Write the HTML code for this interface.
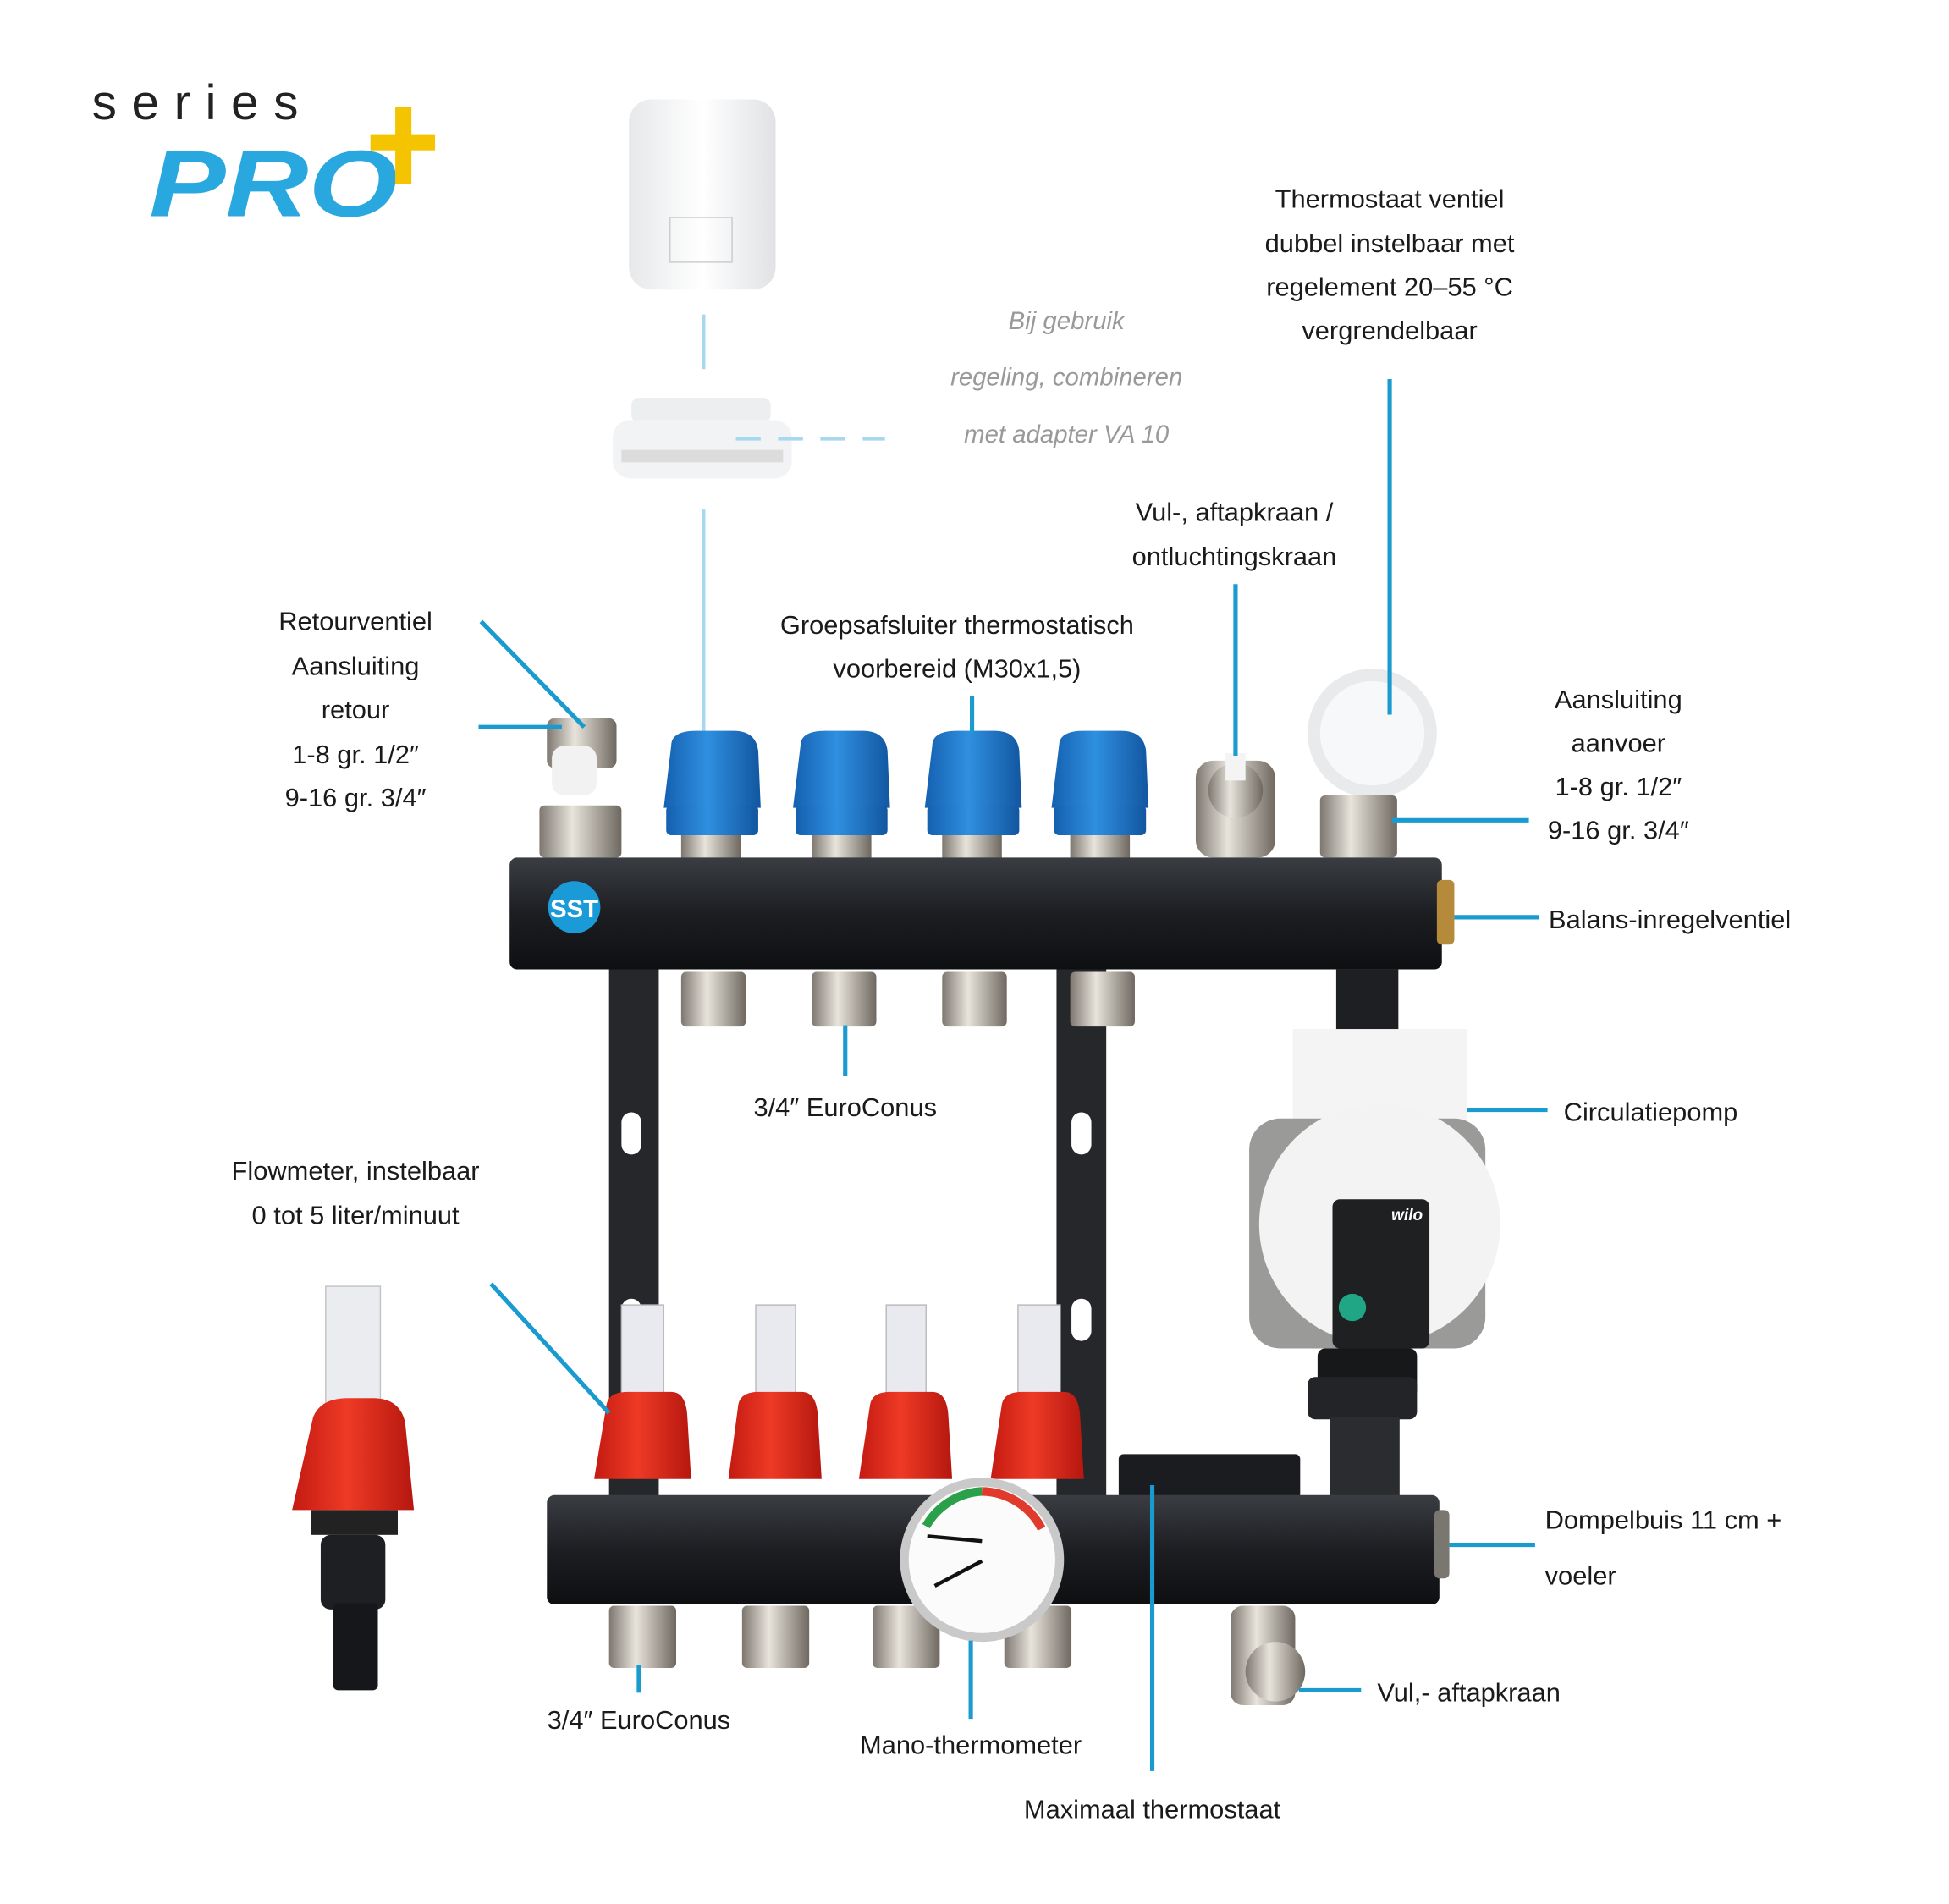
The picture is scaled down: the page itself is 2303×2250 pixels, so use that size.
<!DOCTYPE html>
<html><head><meta charset="utf-8"><style>
html,body{margin:0;padding:0;background:#fff}
svg{display:block}
text{font-family:"Liberation Sans",sans-serif;fill:#1a1a1a;font-size:21px}
</style></head><body>
<svg width="2303" height="2250" viewBox="0 0 1568 1532" preserveAspectRatio="none" xmlns="http://www.w3.org/2000/svg">
<defs>
<linearGradient id="blk" x1="0" y1="0" x2="0" y2="1"><stop offset="0" stop-color="#3a3d42"/><stop offset=".5" stop-color="#1c1e22"/><stop offset="1" stop-color="#0e0f11"/></linearGradient>
<linearGradient id="sil" x1="0" y1="0" x2="1" y2="0"><stop offset="0" stop-color="#7d7770"/><stop offset=".4" stop-color="#e8e4dc"/><stop offset="1" stop-color="#6e6860"/></linearGradient>
<linearGradient id="blu" x1="0" y1="0" x2="1" y2="0"><stop offset="0" stop-color="#1560b0"/><stop offset=".45" stop-color="#2f8fe0"/><stop offset="1" stop-color="#1256a0"/></linearGradient>
<linearGradient id="red" x1="0" y1="0" x2="1" y2="0"><stop offset="0" stop-color="#c41a12"/><stop offset=".45" stop-color="#ee3a25"/><stop offset="1" stop-color="#b5170f"/></linearGradient>
<linearGradient id="wht" x1="0" y1="0" x2="1" y2="0"><stop offset="0" stop-color="#e6e8ea"/><stop offset=".5" stop-color="#ffffff"/><stop offset="1" stop-color="#e0e2e4"/></linearGradient>
</defs>
<g stroke="none">
<text x="74" y="96" textLength="166" lengthAdjust="spacing" style="font-size:40px;fill:#222">series</text>
<text x="120" y="174" textLength="200" lengthAdjust="spacingAndGlyphs" style="font-size:76px;font-weight:bold;font-style:italic;fill:#29a8e0">PRO</text>
<rect x="318" y="86" width="13" height="62" fill="#f5c400"/>
<rect x="298" y="108" width="52" height="13" fill="#f5c400"/>

<rect x="506" y="80" width="118" height="153" rx="18" fill="url(#wht)"/>
<rect x="539" y="175" width="50" height="36" fill="none" stroke="#ccc"/>
<rect x="508" y="320" width="112" height="20" rx="6" fill="#eceef0"/>
<rect x="493" y="338" width="144" height="47" rx="14" fill="#f2f3f4"/>
<rect x="500" y="362" width="130" height="10" fill="#dcdcdc"/>

<g stroke="#a8d8f0" stroke-width="3" fill="none">
<line x1="566" y1="253" x2="566" y2="297"/>
<line x1="566" y1="410" x2="566" y2="590"/>
<line x1="592" y1="353" x2="712" y2="353" stroke-dasharray="20,14"/>
</g>
<text x="858" y="265" text-anchor="middle" style="font-style:italic;fill:#999;font-size:20px">Bij gebruik</text>
<text x="858" y="310" text-anchor="middle" style="font-style:italic;fill:#999;font-size:20px">regeling, combineren</text>
<text x="858" y="356" text-anchor="middle" style="font-style:italic;fill:#999;font-size:20px">met adapter VA 10</text>

<rect x="490" y="775" width="40" height="430" fill="#25272b"/>
<rect x="850" y="775" width="40" height="430" fill="#25272b"/>
<rect x="500" y="895" width="16" height="34" rx="8" fill="#fff"/>
<rect x="862" y="895" width="16" height="34" rx="8" fill="#fff"/>
<rect x="500" y="1045" width="16" height="34" rx="8" fill="#fff"/>
<rect x="862" y="1045" width="16" height="34" rx="8" fill="#fff"/>

<rect x="440" y="578" width="56" height="40" rx="6" fill="url(#sil)"/>
<rect x="444" y="600" width="36" height="40" rx="10" fill="#f2f2f2"/>
<rect x="434" y="648" width="66" height="42" rx="4" fill="url(#sil)"/>
<g>
<rect x="548" y="670" width="48" height="22" fill="url(#sil)"/>
<rect x="653" y="670" width="48" height="22" fill="url(#sil)"/>
<rect x="758" y="670" width="48" height="22" fill="url(#sil)"/>
<rect x="861" y="670" width="48" height="22" fill="url(#sil)"/>
</g>
<g fill="url(#blu)">
<path d="M540 600 Q540 588 560 588 L590 588 Q608 588 610 604 L612 650 L534 650 Z"/>
<rect x="536" y="648" width="74" height="24" rx="4"/>
<path d="M644 600 Q644 588 664 588 L694 588 Q712 588 714 604 L716 650 L638 650 Z"/>
<rect x="640" y="648" width="74" height="24" rx="4"/>
<path d="M750 600 Q750 588 770 588 L800 588 Q818 588 820 604 L822 650 L744 650 Z"/>
<rect x="746" y="648" width="74" height="24" rx="4"/>
<path d="M852 600 Q852 588 872 588 L902 588 Q920 588 922 604 L924 650 L846 650 Z"/>
<rect x="848" y="648" width="74" height="24" rx="4"/>
</g>
<rect x="962" y="612" width="64" height="78" rx="14" fill="url(#sil)"/>
<circle cx="994" cy="636" r="22" fill="url(#sil)"/>
<rect x="986" y="606" width="16" height="22" fill="#f4f4f4"/>
<circle cx="1104" cy="590" r="52" fill="#e8eaec"/>
<circle cx="1104" cy="590" r="42" fill="#f7f8f9"/>
<rect x="1062" y="640" width="62" height="50" rx="4" fill="url(#sil)"/>

<rect x="410" y="690" width="750" height="90" rx="6" fill="url(#blk)"/>
<rect x="1156" y="708" width="14" height="52" rx="4" fill="#b58a3a"/>
<circle cx="462" cy="730" r="21" fill="#1a9bd8"/>
<text x="462" y="738" text-anchor="middle" style="font-size:20px;font-weight:bold;fill:#fff">SST</text>
<rect x="548" y="782" width="52" height="44" rx="4" fill="url(#sil)"/>
<rect x="653" y="782" width="52" height="44" rx="4" fill="url(#sil)"/>
<rect x="758" y="782" width="52" height="44" rx="4" fill="url(#sil)"/>
<rect x="861" y="782" width="52" height="44" rx="4" fill="url(#sil)"/>

<rect x="1075" y="780" width="50" height="60" fill="#1d1f22"/>
<rect x="1040" y="828" width="140" height="112" fill="#f4f4f4"/>
<rect x="1005" y="900" width="190" height="185" rx="25" fill="#9a9a98"/>
<circle cx="1110" cy="985" r="97" fill="#f3f3f3"/>
<rect x="1072" y="965" width="78" height="120" rx="6" fill="#1e2022"/>
<text x="1132" y="982" text-anchor="middle" style="font-size:13px;font-weight:bold;font-style:italic;fill:#fff">wilo</text>
<circle cx="1088" cy="1052" r="11" fill="#20a685"/>
<rect x="1060" y="1085" width="80" height="40" rx="6" fill="#16181a"/>
<rect x="1052" y="1108" width="88" height="34" rx="6" fill="#222427"/>
<rect x="1070" y="1140" width="56" height="70" fill="#2a2c30"/>

<g fill="#e8eaf0" stroke="#bbb" stroke-width="1">
<rect x="500" y="1050" width="34" height="75"/>
<rect x="608" y="1050" width="32" height="75"/>
<rect x="713" y="1050" width="32" height="75"/>
<rect x="819" y="1050" width="34" height="75"/>
</g>
<g fill="url(#red)">
<path d="M488 1130 Q490 1120 505 1120 L540 1120 Q552 1120 553 1140 L556 1190 L478 1190 Z"/>
<path d="M594 1130 Q596 1120 610 1120 L645 1120 Q657 1120 658 1140 L661 1190 L586 1190 Z"/>
<path d="M700 1130 Q702 1120 716 1120 L750 1120 Q762 1120 763 1140 L766 1190 L691 1190 Z"/>
<path d="M806 1130 Q808 1120 822 1120 L856 1120 Q868 1120 869 1140 L872 1190 L797 1190 Z"/>
</g>
<rect x="900" y="1170" width="146" height="36" rx="4" fill="#1a1c1f"/>
<rect x="440" y="1203" width="718" height="88" rx="6" fill="url(#blk)"/>
<rect x="1154" y="1215" width="12" height="55" rx="4" fill="#7a7670"/>
<rect x="490" y="1292" width="54" height="50" rx="4" fill="url(#sil)"/>
<rect x="597" y="1292" width="54" height="50" rx="4" fill="url(#sil)"/>
<rect x="702" y="1292" width="54" height="50" rx="4" fill="url(#sil)"/>
<rect x="808" y="1292" width="54" height="50" rx="4" fill="url(#sil)"/>
<circle cx="790" cy="1255" r="66" fill="#c9c9c9"/>
<circle cx="790" cy="1255" r="59" fill="#fbfbfb"/>
<path d="M745 1228 A55 55 0 0 1 790 1200" stroke="#2aa04a" stroke-width="7" fill="none"/>
<path d="M790 1200 A55 55 0 0 1 838 1230" stroke="#e03a2c" stroke-width="7" fill="none"/>
<line x1="790" y1="1240" x2="746" y2="1236" stroke="#111" stroke-width="3"/>
<line x1="790" y1="1256" x2="752" y2="1276" stroke="#111" stroke-width="3"/>
<rect x="990" y="1292" width="52" height="80" rx="10" fill="url(#sil)"/>
<circle cx="1026" cy="1345" r="24" fill="url(#sil)"/>

<rect x="262" y="1035" width="44" height="95" fill="#eaecf0" stroke="#c4c4c4"/>
<path d="M252 1140 Q258 1125 280 1125 L300 1125 Q322 1125 326 1145 L333 1215 L235 1215 Z" fill="url(#red)"/>
<rect x="250" y="1215" width="70" height="20" fill="#222"/>
<rect x="258" y="1235" width="52" height="60" rx="8" fill="#1d1f22"/>
<rect x="268" y="1290" width="36" height="70" rx="4" fill="#15171a"/>
</g>

<g stroke="#1a9bd0" stroke-width="3.5" fill="none">
<line x1="387" y1="500" x2="470" y2="585"/>
<line x1="385" y1="585" x2="452" y2="585"/>
<line x1="782" y1="560" x2="782" y2="590"/>
<line x1="994" y1="470" x2="994" y2="608"/>
<line x1="1118" y1="305" x2="1118" y2="575"/>
<line x1="1120" y1="660" x2="1230" y2="660"/>
<line x1="1170" y1="738" x2="1238" y2="738"/>
<line x1="680" y1="825" x2="680" y2="866"/>
<line x1="1180" y1="893" x2="1245" y2="893"/>
<line x1="395" y1="1033" x2="490" y2="1137"/>
<line x1="1166" y1="1243" x2="1235" y2="1243"/>
<line x1="1045" y1="1360" x2="1095" y2="1360"/>
<line x1="514" y1="1340" x2="514" y2="1362"/>
<line x1="781" y1="1320" x2="781" y2="1383"/>
<line x1="927" y1="1195" x2="927" y2="1425"/>
</g>

<g text-anchor="middle">
<text x="286" y="507">Retourventiel</text>
<text x="286" y="543">Aansluiting</text>
<text x="286" y="578">retour</text>
<text x="286" y="614">1-8 gr. 1/2″</text>
<text x="286" y="649">9-16 gr. 3/4″</text>
<text x="770" y="510">Groepsafsluiter thermostatisch</text>
<text x="770" y="545">voorbereid (M30x1,5)</text>
<text x="993" y="419">Vul-, aftapkraan /</text>
<text x="993" y="455">ontluchtingskraan</text>
<text x="1118" y="167">Thermostaat ventiel</text>
<text x="1118" y="203">dubbel instelbaar met</text>
<text x="1118" y="238">regelement 20–55 °C</text>
<text x="1118" y="273">vergrendelbaar</text>
<text x="1302" y="570">Aansluiting</text>
<text x="1302" y="605">aanvoer</text>
<text x="1302" y="640">1-8 gr. 1/2″</text>
<text x="1302" y="675">9-16 gr. 3/4″</text>
<text x="680" y="898">3/4″ EuroConus</text>
<text x="286" y="949">Flowmeter, instelbaar</text>
<text x="286" y="985">0 tot 5 liter/minuut</text>
<text x="514" y="1391">3/4″ EuroConus</text>
<text x="781" y="1411">Mano-thermometer</text>
<text x="927" y="1463">Maximaal thermostaat</text>
</g>
<text x="1246" y="747">Balans-inregelventiel</text>
<text x="1258" y="902">Circulatiepomp</text>
<text x="1243" y="1230">Dompelbuis 11 cm +</text>
<text x="1243" y="1275">voeler</text>
<text x="1108" y="1369">Vul,- aftapkraan</text>
</svg>
</body></html>
